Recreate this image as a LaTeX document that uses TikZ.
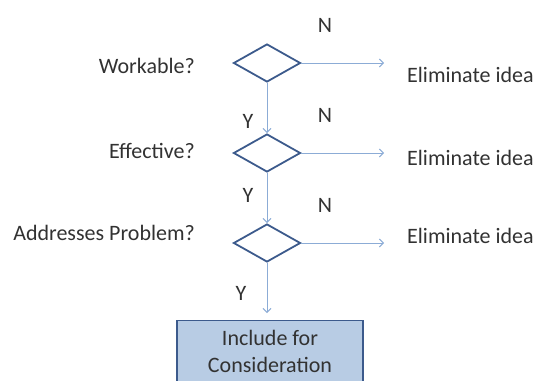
\documentclass[tikz,border=0pt]{standalone}
\usepackage{fontspec}
\setmainfont{Carlito}
\usetikzlibrary{shapes.geometric,arrows.meta}

\definecolor{darkline}{RGB}{60,90,140}
\definecolor{lightline}{RGB}{140,172,214}
\definecolor{boxfill}{RGB}{184,204,228}
\definecolor{textgray}{RGB}{50,50,50}

\begin{document}
\begin{tikzpicture}[x=1pt, y=-1pt,
  every node/.style = {text=textgray, font=\fontsize{22}{27}\selectfont},
  decision/.style = {shape=diamond, draw=darkline, line width=1.8pt,
    minimum width=67pt, minimum height=38pt, inner sep=0pt, aspect=1.7},
  flow/.style = {draw=lightline, line width=1pt,
    -{Straight Barb[length=4pt,width=8pt]}},
  result/.style = {draw=darkline, line width=1.4pt, fill=boxfill,
    minimum width=186pt, inner ysep=10pt, align=center, anchor=north}]
  \useasboundingbox (0,0) rectangle (537,380);
  \clip (0,0) rectangle (537,380);

  % decisions
  \node[decision] (work) at (267,63) {};
  \node[decision] (effect) at (267,153) {};
  \node[decision] (addr) at (267,243) {};
  \node[result] (incl) at (270,320) {Include for\\Consideration};

  % questions
  \node[anchor=base east, inner sep=0pt] (qwork) at (195,73) {Workable?};
  \node[anchor=base east, inner sep=0pt] (qeffect) at (195,158) {Effective?};
  \node[anchor=base east, inner sep=0pt] (qaddr) at (195,240) {Addresses Problem?};

  % eliminate targets
  \coordinate (ework) at (384,63);
  \coordinate (eeffect) at (384,153);
  \coordinate (eaddr) at (384,243);
  \node[anchor=base west, inner sep=0pt] (twork) at (407,82) {Eliminate idea};
  \node[anchor=base west, inner sep=0pt] (teffect) at (407,165) {Eliminate idea};
  \node[anchor=base west, inner sep=0pt] (taddr) at (407,243) {Eliminate idea};

  % connectors
  \draw[flow] (work.east) -- (ework);
  \draw[flow] (effect.east) -- (eeffect);
  \draw[flow] (addr.east) -- (eaddr);
  \draw[flow] (work.south) -- (effect.north);
  \draw[flow] (effect.south) -- (addr.north);
  \draw[flow, shorten >=7pt] (addr.south) -- (addr.south |- incl.north);

  % answers
  \node[anchor=base, inner sep=0pt] (n1) at (325,32) {N};
  \node[anchor=base, inner sep=0pt] (n2) at (325,122) {N};
  \node[anchor=base, inner sep=0pt] (n3) at (325,212) {N};
  \node[anchor=base, inner sep=0pt] (y1) at (248,128) {Y};
  \node[anchor=base, inner sep=0pt] (y2) at (248,202) {Y};
  \node[anchor=base, inner sep=0pt] (y3) at (241,300) {Y};
\end{tikzpicture}
\end{document}
